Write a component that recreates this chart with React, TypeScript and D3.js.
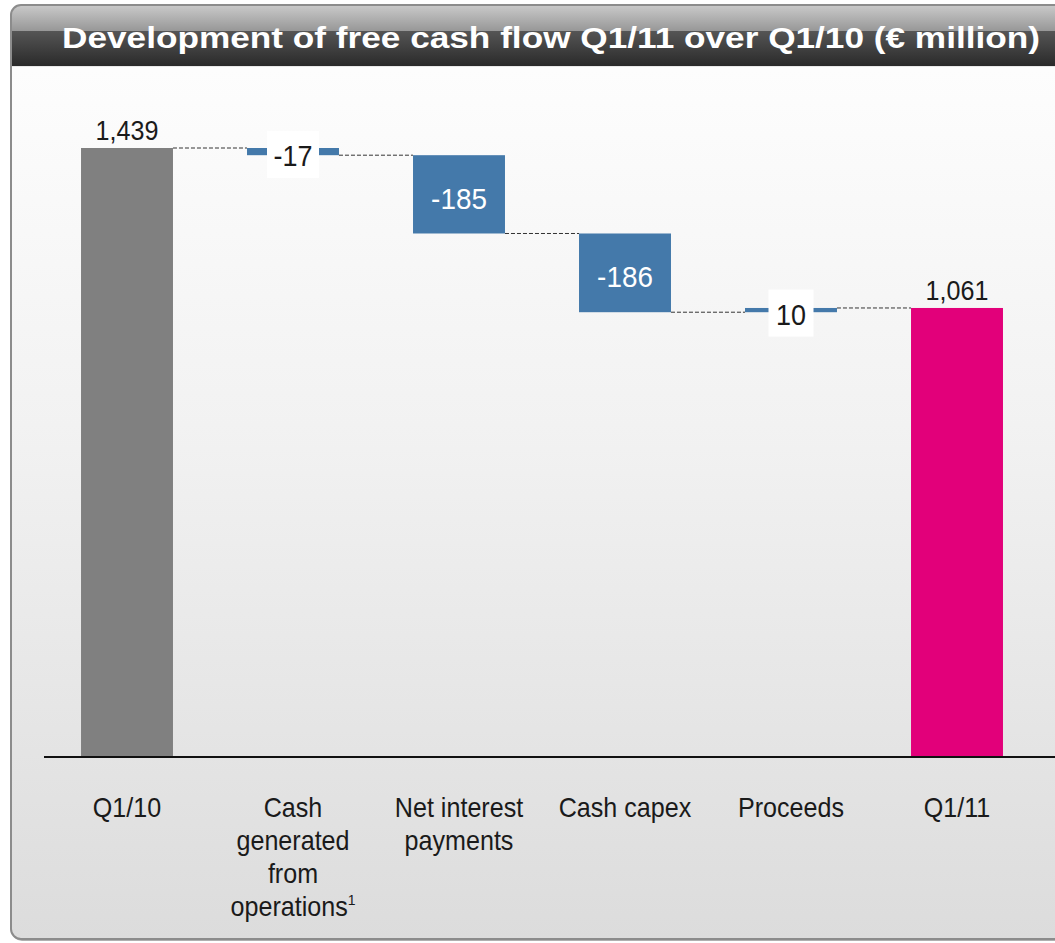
import { useMemo } from 'react';
import * as d3 from 'd3';

const categories = ['Q1/10', 'Cash generated from operations', 'Net interest payments', 'Cash capex', 'Proceeds', 'Q1/11'];
const categoryLines = [['Q1/10'], ['Cash', 'generated', 'from', 'operations'], ['Net interest', 'payments'], ['Cash capex'], ['Proceeds'], ['Q1/11']];
const values = [1439, -17, -185, -186, 10, 1061];
const kinds = ['total', 'delta', 'delta', 'delta', 'delta', 'total'];
const valueLabels = ['1,439', '-17', '-185', '-186', '10', '1,061'];
const footnoteIndex = 1;

const W = 1055;
const H = 943;
const BASE_Y = 757;
const FONT = '"Liberation Sans", Arial, sans-serif';
const SX = 0.93; // squeeze to mimic the condensed corporate face

const GREY = '#808080';
const BLUE = '#4479aa';
const MAGENTA = '#e2007a';

interface Step {
  cat: string;
  kind: string;
  label: string;
  lo: number;
  hi: number;
  end: number;
}

export default function App() {
  const steps = useMemo<Step[]>(() => {
    let running = 0;
    return values.map((v, i) => {
      if (kinds[i] === 'total') {
        running = v;
        return { cat: categories[i], kind: 'total', label: valueLabels[i], lo: 0, hi: v, end: v };
      }
      const start = running;
      running = start + v;
      return {
        cat: categories[i],
        kind: 'delta',
        label: valueLabels[i],
        lo: Math.min(start, running),
        hi: Math.max(start, running),
        end: running,
      };
    });
  }, []);

  const x = d3.scaleBand<string>()
    .domain(categories)
    .range([44, 1040])
    .paddingInner(0.446)
    .paddingOuter(0.223);

  const y = d3.scaleLinear()
    .domain([0, 1439])
    .range([BASE_Y, 148]);

  const bw = x.bandwidth();
  const at = (px: number, py: number) => `translate(${px},${py}) scale(${SX},1)`;

  return (
    <svg width={W} height={H} style={{ position: 'absolute', left: 0, top: 0 }}>
      <defs>
        <linearGradient id="panelBg" x1="0" y1="0" x2="0" y2="1">
          <stop offset="0" stopColor="#ffffff" />
          <stop offset="0.45" stopColor="#f2f2f2" />
          <stop offset="1" stopColor="#dcdcdc" />
        </linearGradient>
        <linearGradient id="headBg" x1="0" y1="0" x2="0" y2="1">
          <stop offset="0" stopColor="#cacaca" />
          <stop offset="0.42" stopColor="#989898" />
          <stop offset="0.43" stopColor="#555555" />
          <stop offset="1" stopColor="#2a2a2a" />
        </linearGradient>
        <clipPath id="panelClip">
          <rect x={11} y={5} width={W + 20} height={934} rx={10} />
        </clipPath>
      </defs>

      {/* panel */}
      <rect x={12} y={7} width={W + 20} height={934} rx={10} fill="#b0b0b0" />
      <g clipPath="url(#panelClip)">
        <rect x={11} y={5} width={W + 20} height={934} fill="url(#panelBg)" />
        <rect x={11} y={5} width={W + 20} height={61} fill="url(#headBg)" />
        <line x1={11} x2={W} y1={66.5} y2={66.5} stroke="#e8e8e8" strokeWidth={1} />
      </g>
      <rect x={11} y={5} width={W + 20} height={934} rx={10} fill="none" stroke="#8c8c8c" strokeWidth={2} />

      <text
        transform="translate(62,48) scale(1,1.16)"
        x={0}
        y={0}
        fill="#ffffff"
        fontFamily={FONT}
        fontWeight="bold"
        fontSize={26}
        textLength={978}
        lengthAdjust="spacingAndGlyphs"
      >
        Development of free cash flow Q1/11 over Q1/10 (€ million)
      </text>

      {/* connectors */}
      {steps.slice(0, -1).map((s, i) => {
        const next = steps[i + 1];
        const x1 = (x(s.cat) ?? 0) + bw;
        const x2 = x(next.cat) ?? 0;
        return (
          <line
            key={'c' + i}
            x1={x1}
            x2={x2}
            y1={y(s.end)}
            y2={y(s.end)}
            stroke="#333"
            strokeWidth={1}
            strokeDasharray="4,2"
          />
        );
      })}

      {/* bars */}
      {steps.map((s, i) => {
        const fill = s.kind === 'total' ? (i === 0 ? GREY : MAGENTA) : BLUE;
        return (
          <rect
            key={'b' + i}
            x={x(s.cat)}
            y={y(s.hi)}
            width={bw}
            height={y(s.lo) - y(s.hi)}
            fill={fill}
          />
        );
      })}

      {/* baseline */}
      <line x1={44} x2={W} y1={BASE_Y} y2={BASE_Y} stroke="#111" strokeWidth={2} />

      {/* value labels */}
      {steps.map((s, i) => {
        const cx = (x(s.cat) ?? 0) + bw / 2;
        if (s.kind === 'total') {
          return (
            <text key={'v' + i} transform={at(cx, y(s.hi) - 8)} textAnchor="middle" fontFamily={FONT} fontSize={27} fill="#1a1a1a">
              {s.label}
            </text>
          );
        }
        const top = y(s.hi);
        const bot = y(s.lo);
        const mid = (top + bot) / 2;
        if (bot - top > 40) {
          return (
            <text key={'v' + i} transform={at(cx, mid + 14.5)} textAnchor="middle" fontFamily={FONT} fontSize={30} fill="#ffffff">
              {s.label}
            </text>
          );
        }
        const bh = 47;
        const bwid = s.label.length > 2 ? 52 : 45;
        const by = mid + 3 - bh / 2;
        return (
          <g key={'v' + i}>
            <rect x={cx - bwid / 2} y={by} width={bwid} height={bh} fill="#ffffff" />
            <text transform={at(cx, by + bh / 2 + 11.5)} textAnchor="middle" fontFamily={FONT} fontSize={29} fill="#1a1a1a">
              {s.label}
            </text>
          </g>
        );
      })}

      {/* category labels */}
      {categories.map((c, i) => {
        const cx = (x(c) ?? 0) + bw / 2;
        const lines = categoryLines[i];
        return (
          <text key={'l' + i} transform={at(cx, 817)} textAnchor="middle" fontFamily={FONT} fontSize={27} fill="#1a1a1a">
            {lines.map((ln, j) => (
              <tspan key={j} x={0} y={j * 33}>
                {ln}
                {i === footnoteIndex && j === lines.length - 1 && (
                  <tspan fontSize={15} dy={-11}>1</tspan>
                )}
              </tspan>
            ))}
          </text>
        );
      })}
    </svg>
  );
}
